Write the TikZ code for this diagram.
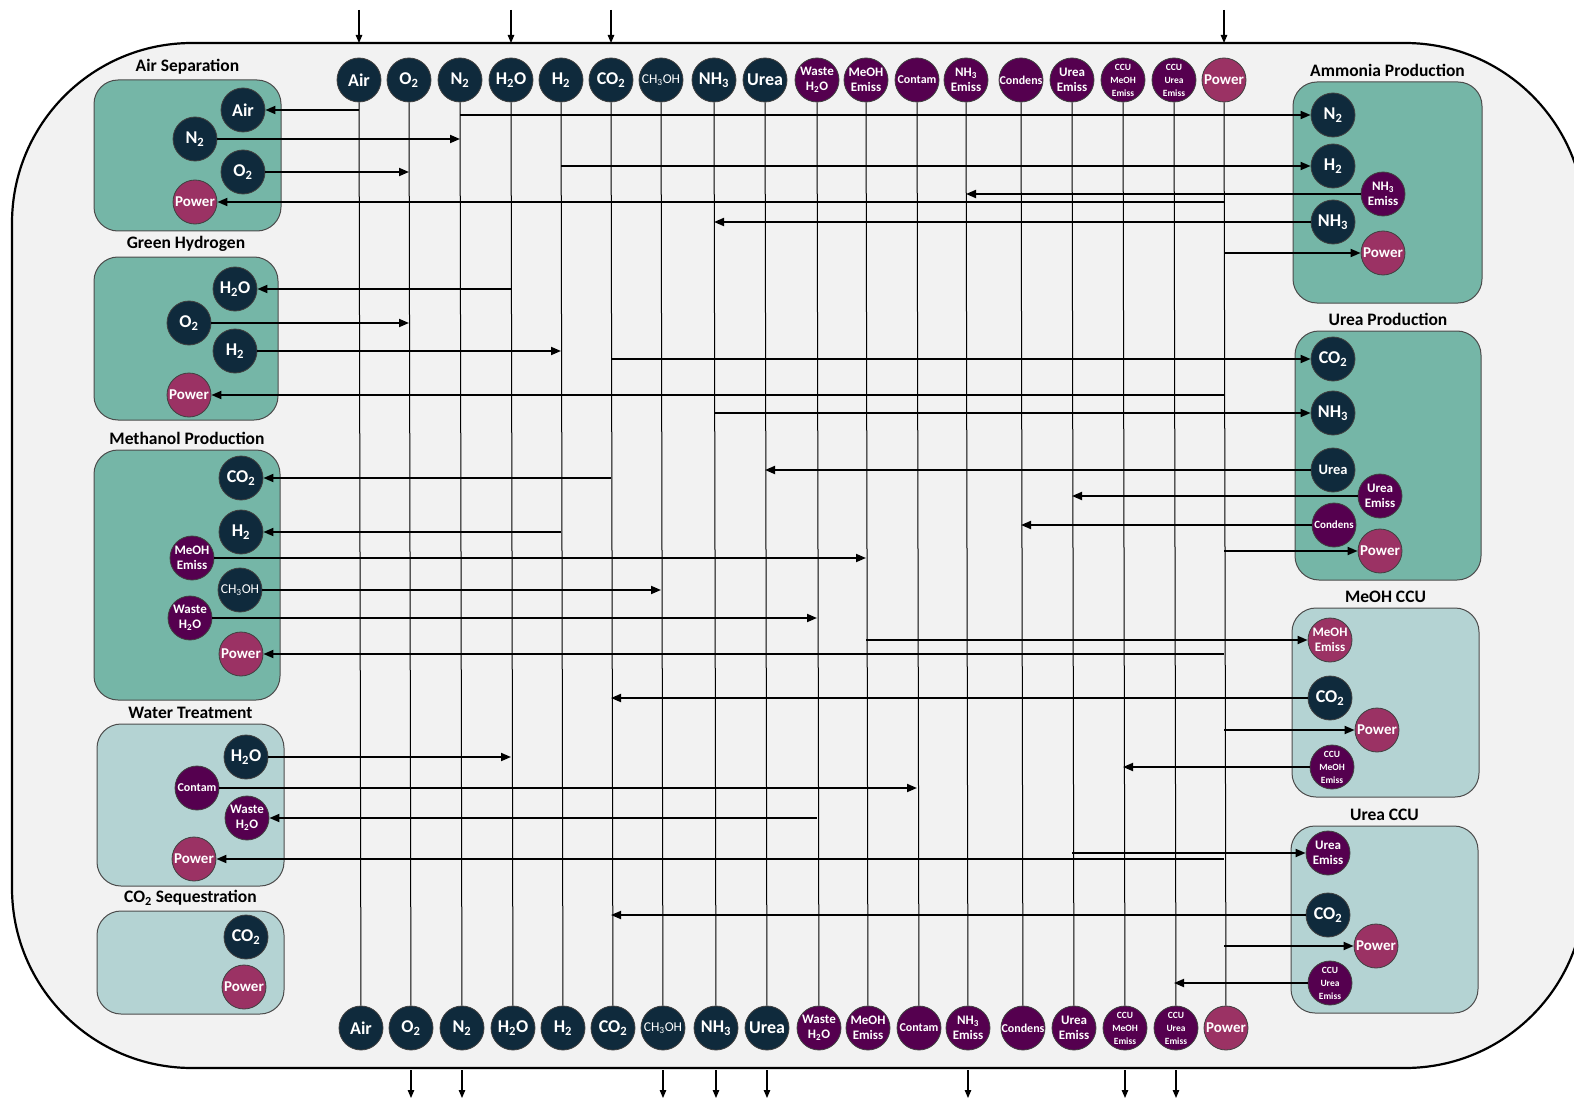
\documentclass[tikz,border=0pt]{standalone}
\usepackage{fontspec}
\setmainfont{Carlito}
\usetikzlibrary{positioning,arrows.meta}
\definecolor{spnavy}{HTML}{0F2A3C}
\definecolor{sppurple}{HTML}{55004F}
\definecolor{sppower}{HTML}{9B3264}
\definecolor{spteal}{HTML}{75B6A7}
\definecolor{spmint}{HTML}{B4D3D3}
\definecolor{spback}{HTML}{F2F2F2}

\begin{document}
\begin{tikzpicture}[x=1pt, y=-1pt]
  \tikzset{
    bubble/.style={circle, draw=black!75, line width=0.8pt, minimum size=44pt, inner sep=0pt, text=white, align=center, font=\bfseries\fontsize{18}{18}\selectfont},
    chem/.style={bubble, fill=spnavy},
    chemmd/.style={bubble, fill=spnavy, font=\fontsize{13.5}{13.5}\selectfont},
    emis/.style={bubble, fill=sppurple, font=\bfseries\fontsize{13}{15}\selectfont},
    emisln/.style={bubble, fill=sppurple, font=\bfseries\fontsize{12}{12}\selectfont},
    emissm/.style={bubble, fill=sppurple, font=\bfseries\fontsize{9.5}{13}\selectfont},
    pwr/.style={bubble, fill=sppower, font=\bfseries\fontsize{15}{15}\selectfont},
    unitbox/.style={draw=black!70, line width=1pt, rounded corners=24pt},
    prodbox/.style={unitbox, fill=spteal},
    ccubox/.style={unitbox, fill=spmint},
    unittitle/.style={font=\bfseries\fontsize{17.5}{18}\selectfont, inner sep=0pt},
    tie/.style={line width=1pt},
    flow/.style={line width=1.8pt, -{Triangle[length=10pt,width=8pt]}},
    feed/.style={line width=1.1pt, -{Triangle[length=8pt,width=6.5pt]}}
  }
  \useasboundingbox (0,0) rectangle (1574,1102);
  \clip (0,0) rectangle (1574,1102);

  \draw[line width=2.2pt, fill=spback, rounded corners=180pt] (12,43) rectangle (1585,1068);
  \coordinate (feedtop) at (0,10);
  \coordinate (rimtop) at (0,43);
  \coordinate (rimbot) at (0,1070);
  \coordinate (feedbot) at (0,1098);

  % process units
  \node[prodbox, minimum width=187pt, minimum height=151pt] (asBox) at (187.5,155.5) {};
  \node[prodbox, minimum width=184pt, minimum height=163pt] (ghBox) at (186,338.5) {};
  \node[prodbox, minimum width=186pt, minimum height=250pt] (mpBox) at (187,575) {};
  \node[ccubox, minimum width=187pt, minimum height=162pt] (wtBox) at (190.5,805) {};
  \node[ccubox, minimum width=187pt, minimum height=103pt] (csBox) at (190.5,962.5) {};
  \node[prodbox, minimum width=189pt, minimum height=221pt] (amBox) at (1387.5,192.5) {};
  \node[prodbox, minimum width=186pt, minimum height=249pt] (upBox) at (1388,455.5) {};
  \node[ccubox, minimum width=187pt, minimum height=189pt] (mcBox) at (1385.5,702.5) {};
  \node[ccubox, minimum width=187pt, minimum height=187pt] (ucBox) at (1384.5,919.5) {};

  \node[unittitle, above=5pt of asBox] (asTitle) {Air Separation};
  \node[unittitle, above=5pt of ghBox] (ghTitle) {Green Hydrogen};
  \node[unittitle, above=5pt of mpBox] (mpTitle) {Methanol Production};
  \node[unittitle, above=5pt of wtBox] (wtTitle) {Water Treatment};
  \node[unittitle, above=5pt of csBox] (csTitle) {CO\textsubscript{2} Sequestration};
  \node[unittitle, above=5pt of amBox] (amTitle) {Ammonia Production};
  \node[unittitle, above=5pt of upBox] (upTitle) {Urea Production};
  \node[unittitle, above=5pt of mcBox] (mcTitle) {MeOH CCU};
  \node[unittitle, above=5pt of ucBox] (ucTitle) {Urea CCU};

  % stream headers
  \foreach \nm/\x/\sty/\lbl in {
    Air/359/chem/Air,
    Otwo/409/chem/O\textsubscript{2},
    Ntwo/460/chem/N\textsubscript{2},
    Water/511/chem/H\textsubscript{2}O,
    Htwo/561/chem/H\textsubscript{2},
    COtwo/611/chem/CO\textsubscript{2},
    MeOH/661/chemmd/CH\textsubscript{3}OH,
    NHthree/714/chem/NH\textsubscript{3},
    Urea/765/chem/Urea,
    Waste/817/emis/Waste\\H\textsubscript{2}O,
    MeEm/866/emis/MeOH\\Emiss,
    Contam/917/emisln/Contam,
    NHEm/966/emis/NH\textsubscript{3}\\Emiss,
    Cond/1021/emisln/Condens,
    UrEm/1072/emis/Urea\\Emiss,
    CcuMe/1123/emissm/CCU\\MeOH\\Emiss,
    CcuUr/1174/emissm/CCU\\Urea\\Emiss,
    Pow/1224/pwr/Power}{
    \node[\sty] (t\nm) at (\x,80) {\lbl};
    \node[\sty] (b\nm) at (\x+2,1028) {\lbl};
    \draw[tie] (t\nm) -- (b\nm);
  }

  \node[chem] (asAir) at (243,110) {Air};
  \node[chem] (asNtwo) at (195,139) {N\textsubscript{2}};
  \node[chem] (asOtwo) at (243,172) {O\textsubscript{2}};
  \node[pwr] (asPow) at (195,202) {Power};

  \node[chem] (ghWater) at (235,289) {H\textsubscript{2}O};
  \node[chem] (ghOtwo) at (189,323) {O\textsubscript{2}};
  \node[chem] (ghHtwo) at (235,351) {H\textsubscript{2}};
  \node[pwr] (ghPow) at (189,395) {Power};

  \node[chem] (mpCOtwo) at (241,478) {CO\textsubscript{2}};
  \node[chem] (mpHtwo) at (241,532) {H\textsubscript{2}};
  \node[emis] (mpMeEm) at (192,558) {MeOH\\Emiss};
  \node[chemmd] (mpMeOH) at (240,590) {CH\textsubscript{3}OH};
  \node[emis] (mpWaste) at (190,618) {Waste\\H\textsubscript{2}O};
  \node[pwr] (mpPow) at (241,654) {Power};

  \node[chem] (wtWater) at (246,757) {H\textsubscript{2}O};
  \node[emisln] (wtContam) at (197,788) {Contam};
  \node[emis] (wtWaste) at (247,818) {Waste\\H\textsubscript{2}O};
  \node[pwr] (wtPow) at (194,859) {Power};

  \node[chem] (csCOtwo) at (246,937) {CO\textsubscript{2}};
  \node[pwr] (csPow) at (244,987) {Power};

  \node[chem] (amNtwo) at (1333,115) {N\textsubscript{2}};
  \node[chem] (amHtwo) at (1333,166) {H\textsubscript{2}};
  \node[emis] (amNHEm) at (1383,194) {NH\textsubscript{3}\\Emiss};
  \node[chem] (amNHthree) at (1333,222) {NH\textsubscript{3}};
  \node[pwr] (amPow) at (1383,253) {Power};

  \node[chem] (upCOtwo) at (1333,359) {CO\textsubscript{2}};
  \node[chem] (upNHthree) at (1333,413) {NH\textsubscript{3}};
  \node[chem, font=\bfseries\fontsize{14.5}{14.5}\selectfont] (upUrea) at (1333,470) {Urea};
  \node[emis] (upUrEm) at (1380,496) {Urea\\Emiss};
  \node[emisln, font=\bfseries\fontsize{11}{11}\selectfont] (upCond) at (1334,525) {Condens};
  \node[pwr] (upPow) at (1380,551) {Power};

  \node[pwr, font=\bfseries\fontsize{13}{15}\selectfont] (mcMeEm) at (1330,640) {MeOH\\Emiss};
  \node[chem] (mcCOtwo) at (1330,698) {CO\textsubscript{2}};
  \node[pwr] (mcPow) at (1377,730) {Power};
  \node[emissm] (mcCcuMe) at (1332,767) {CCU\\MeOH\\Emiss};

  \node[emis] (ucUrEm) at (1328,853) {Urea\\Emiss};
  \node[chem] (ucCOtwo) at (1328,915) {CO\textsubscript{2}};
  \node[pwr] (ucPow) at (1376,946) {Power};
  \node[emissm] (ucCcuUr) at (1330,983) {CCU\\Urea\\Emiss};

  % links to and from the headers
  \draw[flow] (tAir |- asAir) -- (asAir);
  \draw[flow] (asNtwo) -- (tNtwo |- asNtwo);
  \draw[flow] (asOtwo) -- (tOtwo |- asOtwo);
  \draw[flow] (tPow |- asPow) -- (asPow);

  \draw[flow] (tWater |- ghWater) -- (ghWater);
  \draw[flow] (ghOtwo) -- (tOtwo |- ghOtwo);
  \draw[flow] (ghHtwo) -- (tHtwo |- ghHtwo);
  \draw[flow] (tPow |- ghPow) -- (ghPow);

  \draw[flow] (tCOtwo |- mpCOtwo) -- (mpCOtwo);
  \draw[flow] (tHtwo |- mpHtwo) -- (mpHtwo);
  \draw[flow] (mpMeEm) -- (tMeEm |- mpMeEm);
  \draw[flow] (mpMeOH) -- (tMeOH |- mpMeOH);
  \draw[flow] (mpWaste) -- (tWaste |- mpWaste);
  \draw[flow] (tPow |- mpPow) -- (mpPow);

  \draw[flow] (wtWater) -- (tWater |- wtWater);
  \draw[flow] (wtContam) -- (tContam |- wtContam);
  \draw[flow] (tWaste |- wtWaste) -- (wtWaste);
  \draw[flow] (tPow |- wtPow) -- (wtPow);

  \draw[flow] (tNtwo |- amNtwo) -- (amNtwo);
  \draw[flow] (tHtwo |- amHtwo) -- (amHtwo);
  \draw[flow] (amNHEm) -- (tNHEm |- amNHEm);
  \draw[flow] (amNHthree) -- (tNHthree |- amNHthree);
  \draw[flow] (tPow |- amPow) -- (amPow);

  \draw[flow] (tCOtwo |- upCOtwo) -- (upCOtwo);
  \draw[flow] (tNHthree |- upNHthree) -- (upNHthree);
  \draw[flow] (upUrea) -- (tUrea |- upUrea);
  \draw[flow] (upUrEm) -- (tUrEm |- upUrEm);
  \draw[flow] (upCond) -- (tCond |- upCond);
  \draw[flow] (tPow |- upPow) -- (upPow);

  \draw[flow] (tMeEm |- mcMeEm) -- (mcMeEm);
  \draw[flow] (mcCOtwo) -- (tCOtwo |- mcCOtwo);
  \draw[flow] (tPow |- mcPow) -- (mcPow);
  \draw[flow] (mcCcuMe) -- (tCcuMe |- mcCcuMe);

  \draw[flow] (tUrEm |- ucUrEm) -- (ucUrEm);
  \draw[flow] (ucCOtwo) -- (tCOtwo |- ucCOtwo);
  \draw[flow] (tPow |- ucPow) -- (ucPow);
  \draw[flow] (ucCcuUr) -- (tCcuUr |- ucCcuUr);

  % imports and exports
  \foreach \nm in {Air,Water,COtwo,Pow}
    \draw[feed] (t\nm |- feedtop) -- (t\nm |- rimtop);
  \foreach \nm in {Otwo,Ntwo,MeOH,NHthree,Urea,NHEm,CcuMe,CcuUr}
    \draw[feed] (b\nm |- rimbot) -- (b\nm |- feedbot);
\end{tikzpicture}
\end{document}
